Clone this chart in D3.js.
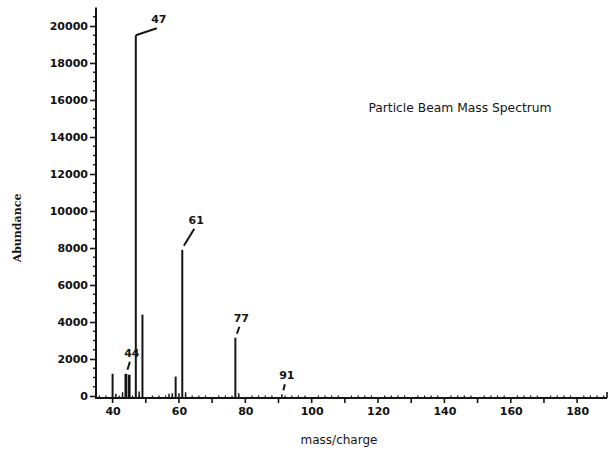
<!DOCTYPE html>
<html lang="en">
<head>
<meta charset="utf-8">
<title>Particle Beam Mass Spectrum</title>
<script src="https://d3js.org/d3.v7.min.js"></script>
<style>
	body { margin: 0; background: #fff; }
	.tick text { font: bold 11px "DejaVu Sans", sans-serif; fill: #111; }
</style>
</head>
<body>
<script>
// peaks (m/z, abundance)
var masses    = [40,   41,  43,  44,   45,   47,    48,  49,   57,  58,  59,   60,  61,   62,  77,   78,  91];
var abundance = [1200, 120, 200, 1200, 1150, 19500, 250, 4400, 120, 150, 1050, 150, 7900, 200, 3150, 150, 100];

// labelled peaks
var labelMass = [44, 47, 61, 77, 91];

var xTicks = [40, 60, 80, 100, 120, 140, 160, 180];
var yTicks = [0, 2000, 4000, 6000, 8000, 10000, 12000, 14000, 16000, 18000, 20000];

var w = 612, h = 452;
var ink = "#151515";

var xScale = d3.scaleLinear().domain([35, 189]).range([96, 607]);
var yScale = d3.scaleLinear().domain([0, 20000]).range([396, 26]);

var svg = d3.select("body").append("svg")
	.attr("width", w)
	.attr("height", h);

// y axis
var yAxis = d3.axisLeft(yScale).tickValues(yTicks).tickSize(6).tickPadding(2).tickFormat(d3.format("d"));
var gy = svg.append("g")
	.attr("transform", "translate(" + xScale.range()[0] + ",0)")
	.call(yAxis);
gy.select(".domain").remove();
gy.selectAll("line").attr("stroke", ink).attr("stroke-width", 1.6);
gy.append("line")
	.attr("y1", yScale(21000)).attr("y2", yScale(0) + 3)
	.attr("stroke", ink).attr("stroke-width", 2);
// minor y ticks
gy.selectAll(".minor")
	.data(d3.range(500, 21000, 500).filter(function(v) { return v % 2000 != 0; }))
	.enter().append("line")
	.attr("x1", -3).attr("x2", 1)
	.attr("y1", d => yScale(d)).attr("y2", d => yScale(d))
	.attr("stroke", ink).attr("stroke-width", 1.4);

// x axis
var baseY = yScale(0) + 2;
var xAxis = d3.axisBottom(xScale).tickValues(xTicks).tickSize(0).tickPadding(9);
var gx = svg.append("g")
	.attr("transform", "translate(0," + baseY + ")")
	.call(xAxis);
gx.select(".domain").remove();
gx.append("line")
	.attr("x1", xScale.range()[0]).attr("x2", xScale.range()[1])
	.attr("stroke", ink).attr("stroke-width", 2);
gx.selectAll(".minor")
	.data(d3.range(36, 190, 2))
	.enter().append("line")
	.attr("x1", d => xScale(d)).attr("x2", d => xScale(d))
	.attr("y1", d => d % 10 == 0 ? 5 : 0)
	.attr("y2", d => d % 10 == 0 ? 0 : -2.5)
	.attr("stroke", ink).attr("stroke-width", d => d % 10 == 0 ? 1.6 : 1.2);
// right end tick
gx.append("line")
	.attr("x1", xScale.range()[1]).attr("x2", xScale.range()[1])
	.attr("y1", -6).attr("y2", 0)
	.attr("stroke", ink).attr("stroke-width", 1.6);

// peaks
svg.append("g")
	.selectAll("line")
	.data(masses)
	.enter().append("line")
	.attr("x1", d => xScale(d)).attr("x2", d => xScale(d))
	.attr("y1", baseY)
	.attr("y2", (d, i) => yScale(abundance[i]))
	.attr("stroke", ink)
	.attr("stroke-width", (d, i) => (d == 44 || d == 45) ? 2.8 : (abundance[i] > 1000 ? 2 : 1.5));

// peak labels with leader strokes
var leader = { 44: [4, -8], 47: [21, -7], 61: [12, -17], 77: [4, -7], 91: [3, -6] };
var labels = svg.append("g");
labelMass.forEach(function(m) {
	var v = abundance[masses.indexOf(m)];
	var x0 = xScale(m), y0 = yScale(v);
	var off = leader[m];
	var gap = (m == 47) ? 0 : 4;
	labels.append("line")
		.attr("x1", x0 + (m == 47 ? 0 : gap * 0.4)).attr("y1", y0 - gap)
		.attr("x2", x0 + off[0]).attr("y2", y0 + off[1] - gap)
		.attr("stroke", ink).attr("stroke-width", 2);
	labels.append("text")
		.attr("x", x0 + off[0] + 2)
		.attr("y", y0 + off[1] - gap - 5)
		.attr("text-anchor", "middle")
		.style("font", "bold 11px 'DejaVu Sans', sans-serif")
		.attr("fill", ink)
		.text(m);
});

// axis titles
svg.append("text")
	.attr("transform", "translate(21,228) rotate(-90)")
	.attr("text-anchor", "middle")
	.style("font", "bold 11px 'DejaVu Serif', serif")
	.attr("fill", ink)
	.text("Abundance");

svg.append("text")
	.attr("x", 339).attr("y", 444)
	.attr("text-anchor", "middle")
	.style("font", "12px 'DejaVu Sans', sans-serif")
	.attr("fill", ink)
	.text("mass/charge");

svg.append("text")
	.attr("x", 460).attr("y", 112)
	.attr("text-anchor", "middle")
	.style("font", "12.3px 'DejaVu Sans', sans-serif")
	.attr("fill", ink)
	.text("Particle Beam Mass Spectrum");
</script>
</body>
</html>
